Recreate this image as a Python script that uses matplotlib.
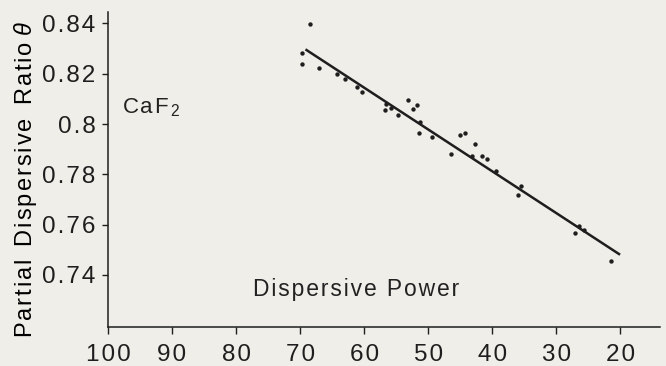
import numpy as np
import matplotlib.pyplot as plt
from matplotlib.ticker import MultipleLocator

# measured points (dispersive power, partial dispersive ratio)
disp_power = [68.4, 69.7, 69.7, 67.0, 64.2, 63.0, 61.1, 60.4, 56.6, 56.8, 55.8,
              54.7, 53.2, 51.75, 52.4, 51.3, 51.5, 49.4, 46.4, 45.0, 44.25,
              43.1, 41.6, 40.75, 39.45, 35.5, 35.9, 26.5, 27.1, 25.65, 21.5, 42.7]
theta = [0.8397, 0.8281, 0.8237, 0.8222, 0.8200, 0.8178, 0.8148, 0.8126,
         0.8078, 0.8054, 0.8063, 0.8036, 0.8094, 0.8074, 0.8060, 0.8008,
         0.7964, 0.7947, 0.7881, 0.7956, 0.7965, 0.7874, 0.7874, 0.7861,
         0.7812, 0.7754, 0.7718, 0.7596, 0.7568, 0.7579, 0.7457, 0.7920]

# fitted line end points
line_x = [69.0, 20.2]
line_y = [0.8294, 0.7483]

x_ticks = [100, 90, 80, 70, 60, 50, 40, 30, 20]
y_ticks = [0.74, 0.76, 0.78, 0.80, 0.82, 0.84]
y_labels = ["0.74", "0.76", "0.78", "0.8", "0.82", "0.84"]

plt.rcParams["font.family"] = ["Liberation Sans", "DejaVu Sans"]
plt.rcParams["mathtext.fontset"] = "custom"
plt.rcParams["mathtext.rm"] = "Liberation Sans"
plt.rcParams["mathtext.it"] = "Liberation Sans:italic"
plt.rcParams["text.color"] = "#222222"

bg = "#efeee8"
ink = "#1e1e1e"


# old phototype lettering is spaced out, so pad letters with hair spaces
def spaced(s, sep="\u200a"):
    return sep.join(s)


fig = plt.figure(figsize=(6.66, 3.66), dpi=100, facecolor=bg)
ax = fig.add_axes([0.1622, 0.1066, 0.8288, 0.8604], facecolor=bg)

ax.scatter(disp_power, theta, s=10, color=ink, zorder=3, linewidths=0)
ax.plot(line_x, line_y, color=ink, lw=1.8, zorder=2)

ax.set_xlim(100, 13.8)
ax.set_ylim(0.7193, 0.8445)
ax.set_xticks(x_ticks)
ax.set_xticklabels([spaced(str(v)) for v in x_ticks])
ax.set_yticks(y_ticks)
ax.set_yticklabels([spaced(v) for v in y_labels])

for s in ["top", "right"]:
    ax.spines[s].set_visible(False)
for s in ["left", "bottom"]:
    ax.spines[s].set_linewidth(1.1)
    ax.spines[s].set_color(ink)

ax.tick_params(axis="x", direction="out", length=5, width=1, pad=7,
               labelsize=17.5, colors=ink)
ax.tick_params(axis="y", direction="out", length=4, width=1, pad=5,
               labelsize=17.5, colors=ink)

ax.set_ylabel(spaced("Partial") + "  " + spaced("Dispersive") + "  "
              + spaced("Ratio") + r" $\theta$", fontsize=17)
ax.yaxis.set_label_coords(-0.125, 0.47)

ax.text(0.025, 0.695, spaced("CaF") + r"$_{\,2}$", transform=ax.transAxes,
        fontsize=16, ha="left", va="center")
ax.text(0.449, 0.1175, spaced("Dispersive Power"), transform=ax.transAxes,
        fontsize=16.5, ha="center", va="center")

fig.savefig("out.png", dpi=100, facecolor=bg)
